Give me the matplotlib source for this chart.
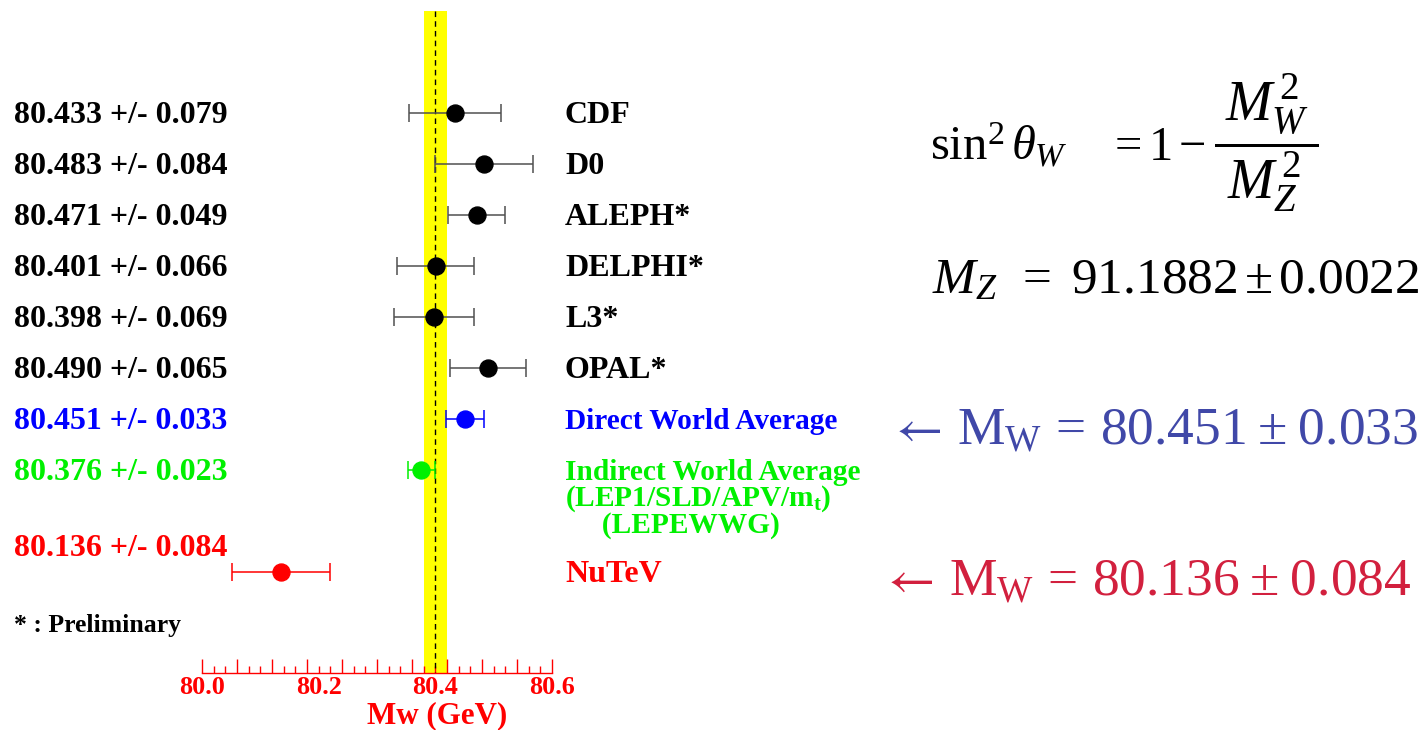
import matplotlib
matplotlib.use('Agg')
import matplotlib.pyplot as plt
import numpy as np
from matplotlib.transforms import blended_transform_factory, offset_copy

plt.rcParams['font.family'] = ['Liberation Serif', 'DejaVu Serif']
plt.rcParams['mathtext.fontset'] = 'custom'
plt.rcParams['mathtext.rm'] = 'Liberation Serif'
plt.rcParams['mathtext.it'] = 'Liberation Serif:italic'
plt.rcParams['mathtext.bf'] = 'Liberation Serif:bold'

# measurements of the W mass (GeV)
names = ['CDF', 'D0', 'ALEPH*', 'DELPHI*', 'L3*', 'OPAL*',
         'Direct World Average',
         'Indirect World Average\n(LEP1/SLD/APV/m$_{\\mathbf{t}}$)\n     (LEPEWWG)',
         'NuTeV']
mw = [80.433, 80.483, 80.471, 80.401, 80.398, 80.490, 80.451, 80.376, 80.136]
mw_err = [0.079, 0.084, 0.049, 0.066, 0.069, 0.065, 0.033, 0.023, 0.084]
rows = [0, 1, 2, 3, 4, 5, 6, 7, 9]
value_rows = [0, 1, 2, 3, 4, 5, 6, 7, 8.5]
colors = ['black'] * 6 + ['#0000ff', '#00f000', '#ff0000']
bar_colors = ['#505050'] * 6 + ['#0000ff', '#00f000', '#ff0000']

band_lo, band_hi, band_mid = 80.38, 80.42, 80.40
x_min, x_max = 80.0, 80.6
label_ticks = [80.0, 80.2, 80.4, 80.6]

W, H = 1426, 730
fig = plt.figure(figsize=(W / 100, H / 100), dpi=100)


def fx(px):
    return px / W


def fy(py):
    return 1 - py / H


# axes: 80.0 at px 202, 80.6 at px 552, baseline at py 673
ax = fig.add_axes([fx(202), fy(673), fx(552) - fx(202), 673 / H])
ax.set_xlim(x_min, x_max)
row_h = 51.0
ax.set_ylim((673 - 113) / row_h, -113 / row_h)
y_bot = ax.get_ylim()[0]

# yellow band + dashed line
ax.fill_betweenx([-2.0, y_bot], band_lo, band_hi, color='#ffff00', lw=0, zorder=1)
ax.vlines(band_mid, -2.0, y_bot, colors='black', linestyles=(0, (4, 3)), lw=1.0, zorder=2)

for i in range(len(mw)):
    ax.errorbar(mw[i], rows[i], xerr=mw_err[i], fmt='none', ecolor=bar_colors[i],
                elinewidth=1.1, capsize=6.2, capthick=1.1, zorder=3)
    ax.plot(mw[i], rows[i], 'o', color=colors[i], ms=12.2, zorder=4)

# axis styling
for s in ['top', 'left', 'right']:
    ax.spines[s].set_visible(False)
ax.spines['bottom'].set_color('red')
ax.spines['bottom'].set_linewidth(1.0)
ax.set_yticks([])
ax.set_xticks(np.arange(10 * 0.06 + 0.001, step=0.06) + x_min)
ax.set_xticks(np.arange(30 * 0.02 + 0.001, step=0.02) + x_min, minor=True)
ax.tick_params(axis='x', which='major', direction='in', length=10, width=1.0, color='red',
               labelbottom=False)
ax.tick_params(axis='x', which='minor', direction='in', length=5, width=1.0, color='red')
ax.patch.set_visible(False)

xt = ax.get_xaxis_transform()
for t in label_ticks:
    ax.text(t, -0.004, f'{t:.1f}', transform=xt, ha='center', va='top', color='red',
            fontsize=18.8, fontweight='bold')
fig.text(fx(437), fy(723), 'Mw (GeV)', ha='center', va='baseline', color='red',
         fontsize=22.3, fontweight='bold')

# row labels (baseline sits 10 px below the row centre)
tr = offset_copy(blended_transform_factory(fig.transFigure, ax.transData),
                 fig=fig, x=0, y=-10, units='dots')
for i in range(len(mw)):
    ax.text(fx(14), value_rows[i], f'{mw[i]:.3f} +/- {mw_err[i]:.3f}', transform=tr,
            ha='left', va='baseline', color=colors[i], fontsize=23, fontweight='bold')
    if '\n' in names[i]:
        ax.text(fx(565), rows[i], names[i], transform=offset_copy(tr, fig=fig, y=21, units='dots'),
                ha='left', va='top', color=colors[i], fontsize=21.2, fontweight='bold',
                linespacing=0.88)
    else:
        size = 21.2 if 'World' in names[i] else 23
        ax.text(fx(565), rows[i], names[i], transform=tr, ha='left', va='baseline',
                color=colors[i], fontsize=size, fontweight='bold')

fig.text(fx(14), fy(632), '* : Preliminary', ha='left', va='baseline',
         color='black', fontsize=18.5, fontweight='bold')

# formulas on the right
fig.text(fx(930), fy(160), r'$\sin^2\theta_W$', ha='left', va='baseline', fontsize=35,
         color='black')
fig.text(fx(1107), fy(160), r'$=1\,{-}$', ha='left', va='baseline', fontsize=35, color='black')
fig.text(fx(1214), fy(160), r'$\dfrac{\;M_W^{\,2}\;}{\;M_Z^{\,2}\;}$', ha='left', va='baseline',
         fontsize=40, color='black')
fig.text(fx(932), fy(293), r'$M_Z\ \,{=}\ 91.1882\,{\pm}\,0.0022$',
         ha='left', va='baseline', fontsize=37, color='black')

for x0, y0, label, col in [(895, 444, r'$\mathrm{M}_\mathrm{W}\,{=}\,80.451\;{\pm}\;0.033$', '#4048a8'),
                           (887, 595, r'$\mathrm{M}_\mathrm{W}\,{=}\,80.136\;{\pm}\;0.084$', '#d2203e')]:
    fig.text(fx(x0), fy(y0), '\u2190', ha='left', va='baseline', fontsize=37, color=col,
             family='STIXGeneral')
    fig.text(fx(x0 + 62), fy(y0), label, ha='left', va='baseline', fontsize=38.5, color=col)

fig.savefig('out.png', dpi=100)
